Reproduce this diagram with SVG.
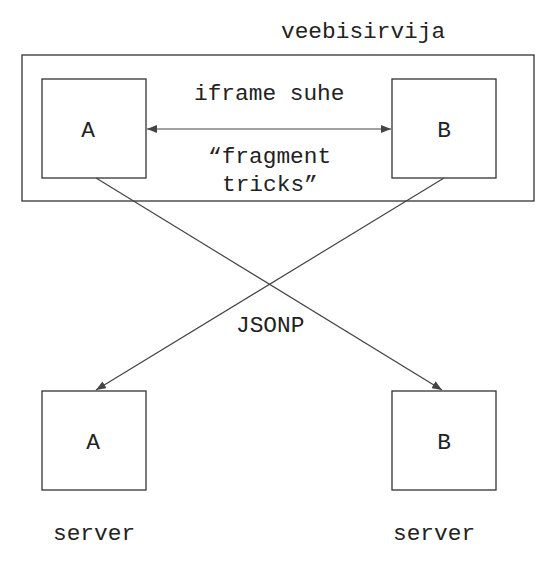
<svg xmlns="http://www.w3.org/2000/svg" width="559" height="569" viewBox="0 0 559 569">
<style>
.box{fill:#fff;stroke:#333;stroke-width:1.3}
.lbl{font-family:"Courier New","Nimbus Mono PS","FreeMono","Liberation Mono",monospace;font-size:22.8px;fill:#222}
.mid{text-anchor:middle}
.conn{stroke:#444;stroke-width:1.2;fill:none}
</style>
<defs>
<marker id="ah" viewBox="0 0 10 8" refX="10" refY="4" markerWidth="10" markerHeight="8" markerUnits="userSpaceOnUse" orient="auto-start-reverse">
<path d="M0,0 L10,4 L0,8 Z" fill="#444"/>
</marker>
</defs>
<rect width="559" height="569" fill="#fff"/>
<g id="browser">
<rect class="box" x="22" y="55" width="512" height="146"/>
<text class="lbl" x="281" y="38">veebisirvija</text>
</g>
<g id="clientA">
<rect class="box" x="42" y="79" width="104" height="99"/>
<text class="lbl mid" x="88" y="137">A</text>
</g>
<g id="clientB">
<rect class="box" x="392" y="79" width="104" height="99"/>
<text class="lbl mid" x="444" y="137">B</text>
</g>
<g id="serverA">
<rect class="box" x="42" y="391" width="104" height="99"/>
<text class="lbl mid" x="93" y="449">A</text>
<text class="lbl" x="53" y="540">server</text>
</g>
<g id="serverB">
<rect class="box" x="392" y="391" width="104" height="99"/>
<text class="lbl mid" x="444" y="449">B</text>
<text class="lbl" x="393" y="540">server</text>
</g>
<g id="connectors">
<line class="conn" x1="147" y1="129" x2="391" y2="129" marker-start="url(#ah)" marker-end="url(#ah)"/>
<line class="conn" x1="96" y1="178" x2="442" y2="390" marker-end="url(#ah)"/>
<line class="conn" x1="444" y1="178" x2="96" y2="390" marker-end="url(#ah)"/>
<text class="lbl" x="194" y="100">iframe suhe</text>
<text class="lbl" x="208" y="163">“fragment</text>
<text class="lbl" x="222" y="191">tricks”</text>
<text class="lbl" x="236" y="332">JSONP</text>
</g>
</svg>
